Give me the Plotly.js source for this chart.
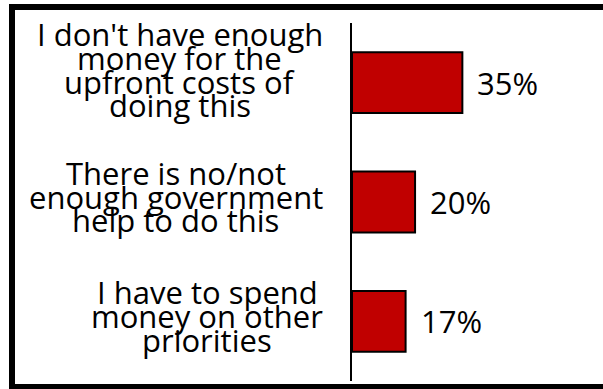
<!DOCTYPE html>
<html><head><meta charset="utf-8">
<script src="https://cdn.plot.ly/plotly-3.0.1.min.js"></script>
<style>html,body{margin:0;padding:0;background:#fff;}#chart{width:603px;height:389px;}</style>
</head><body><div id="chart"></div>
<script>
const categories = ["I don't have enough<br>money for the<br>upfront costs of<br>doing this", "There is no/not<br>enough government<br>help to do this", "I have to spend<br>money on other<br>priorities"];
const values = [35, 20, 17];
const valueLabels = ["35%", "20%", "17%"];

const FONT = '"Open Sans", sans-serif';
const LABEL_SIZE = 31, VALUE_SIZE = 31, LINE_H = 23.6, VOFF = 5.4, EXTRA_PER_LINE = 7.5;
const W = 603, H = 389, M = {l: 352, r: 11, t: 23, b: 8};
const pw = W - M.l - M.r, ph = H - M.t - M.b;
const px = x => (x - M.l) / pw, py = y => (H - M.b - y) / ph;

const ctx = document.createElement('canvas').getContext('2d');
ctx.font = LABEL_SIZE + 'px "Open Sans"';

const annotations = [];
categories.forEach((cat, i) => {
  const lines = cat.split('<br>');
  const maxW = Math.max(...lines.map(l => ctx.measureText(l).width));
  const n = lines.length;
  const extra = Math.max(0, n - 3) * EXTRA_PER_LINE;
  lines.forEach((line, j) => {
    annotations.push({xref: 'paper', yref: 'y', x: 0, y: cat, text: line, showarrow: false,
      xanchor: 'center', yanchor: 'middle', xshift: -(29 + maxW / 2),
      yshift: -(j - (n - 1) / 2) * LINE_H + VOFF + extra,
      font: {family: FONT, size: LABEL_SIZE, color: '#000'}});
  });
  annotations.push({xref: 'x', yref: 'y', x: values[i], y: cat, text: valueLabels[i], showarrow: false,
    xanchor: 'left', yanchor: 'middle', xshift: 13,
    font: {family: FONT, size: VALUE_SIZE, color: '#000'}});
});

const frame = (x0, y0, x1, y1) => ({type: 'rect', xref: 'paper', yref: 'paper', x0: px(x0), x1: px(x1), y0: py(y0), y1: py(y1),
  fillcolor: '#000', line: {width: 0}, layer: 'above'});
const shapes = [frame(9, 4, 603, 10), frame(9, 4, 15, 389), frame(9, 384, 603, 389)];

Plotly.newPlot('chart', [{
  type: 'bar', orientation: 'h', x: values, y: categories, width: 0.51,
  marker: {color: '#C00000', line: {color: '#000', width: 2}}, hoverinfo: 'none'
}], {
  width: W, height: H, margin: M, paper_bgcolor: '#fff', plot_bgcolor: '#fff', showlegend: false,
  xaxis: {range: [0, pw / 3.153], visible: false, showgrid: false, zeroline: false},
  yaxis: {type: 'category', range: [2.5, -0.5], showline: true, linecolor: '#000', linewidth: 2,
    showticklabels: false, ticks: '', showgrid: false, zeroline: false},
  annotations: annotations, shapes: shapes
}, {staticPlot: true, displayModeBar: false});
</script></body></html>
